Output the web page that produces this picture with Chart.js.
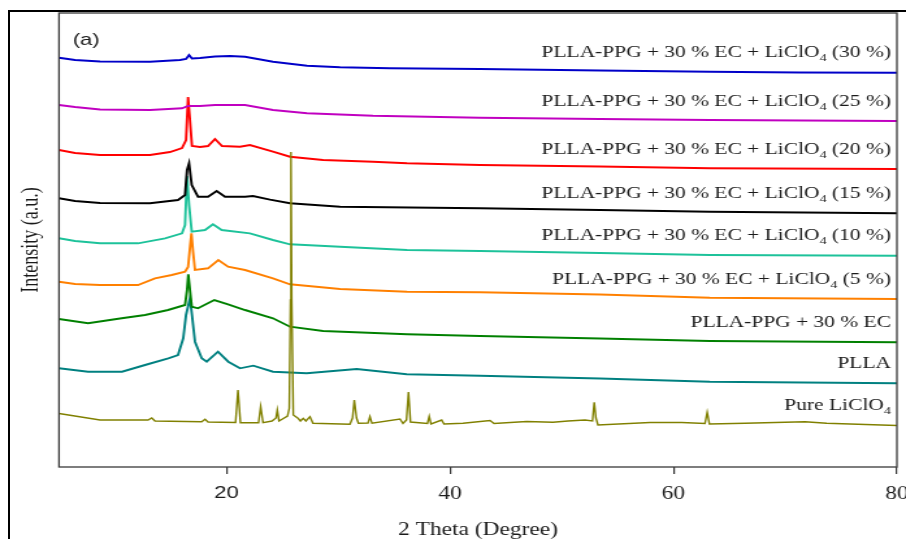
<!DOCTYPE html>
<html lang="en">
<head>
    <meta charset="UTF-8">
    <title>XRD patterns (a)</title>
    <script src="https://cdn.jsdelivr.net/npm/chart.js"></script>
    <style>
        body { margin: 0; background: #fff; }
        .frame {
            position: absolute; left: 8px; top: 10px;
            width: 1000px; height: 1000px;
            border-left: 2px solid #000; border-top: 2px solid #000;
        }
        #xrd { position: absolute; left: 0; top: 0; }
    </style>
</head>
<body>
    <div class="frame"></div>
    <!-- the original figure is stretched sideways, so the canvas is too -->
    <canvas id="xrd" width="697" height="539" style="width: 906px; height: 539px;"></canvas>
    <script>
        const tickValues = [20, 40, 60, 80];

        const seriesNames = [
            'PLLA-PPG + 30 % EC + LiClO_4 (30 %)',
            'PLLA-PPG + 30 % EC + LiClO_4 (25 %)',
            'PLLA-PPG + 30 % EC + LiClO_4 (20 %)',
            'PLLA-PPG + 30 % EC + LiClO_4 (15 %)',
            'PLLA-PPG + 30 % EC + LiClO_4 (10 %)',
            'PLLA-PPG + 30 % EC + LiClO_4 (5 %)',
            'PLLA-PPG + 30 % EC',
            'PLLA',
            'Pure LiClO_4'
        ];
        const seriesColors = ['#0000c8', '#c000c0', '#ff0000', '#000000', '#1dc29a', '#ff8000', '#008000', '#008080', '#808000'];

        // 2 theta (degree) and intensity (a.u., curves stacked with offsets)
        const theta30 = [5, 6.43, 8.67, 13.14, 15.83, 16.37, 16.64, 16.9, 17.62, 18.96, 20.3, 21.65, 24.15, 27.2, 30.15, 34.62, 42.68, 53.42, 63.26, 71.32, 80];
        const int30 = [409.3, 407, 405.5, 405.3, 407, 408, 412, 408.5, 409, 410.5, 411, 410.3, 405.3, 401.3, 399.7, 398.7, 398, 396.5, 395.3, 394.5, 394.3];

        const theta25 = [5, 6.43, 8.67, 13.14, 16.01, 16.55, 17.62, 18.96, 21.65, 24.15, 27.2, 33.1, 42.68, 53.42, 63.26, 80];
        const int25 = [362, 360, 357.5, 357, 358.7, 361, 361, 362, 362, 357, 353.7, 351.3, 349.3, 348, 347, 346];

        const theta20 = [5, 6.43, 8.67, 13.14, 14.93, 16.01, 16.37, 16.55, 16.72, 16.9, 17.62, 18.34, 18.96, 19.59, 21.2, 22.09, 24.15, 25.67, 28.63, 33.1, 36.15, 42.68, 53.42, 63.26, 80];
        const int20 = [317, 314, 312, 312, 315, 319, 327, 370, 347, 321, 320, 321, 328, 321, 320.3, 322, 315.3, 310.3, 307, 305.3, 303.7, 302, 300.5, 298.7, 298];

        const theta15 = [5, 6.43, 8.67, 13.14, 15.65, 16.28, 16.46, 16.64, 16.88, 17.44, 18.34, 19.11, 19.86, 21.65, 22.36, 23.88, 25.67, 30.15, 42.68, 53.42, 63.26, 80];
        const int15 = [268.7, 266, 264, 263.7, 267, 272, 297, 303.7, 282, 270.3, 270.3, 276, 270.3, 270.3, 271, 267.3, 263.7, 260.3, 258.7, 257, 255.3, 253.7];

        const theta10 = [5, 6.43, 8.67, 12.07, 14.49, 16.01, 16.28, 16.46, 16.64, 16.88, 18.07, 18.78, 19.56, 22.09, 24.15, 25.67, 30.15, 36.15, 42.68, 53.42, 63.26, 80];
        const int10 = [228.7, 226, 223.7, 223.7, 228.7, 233.7, 242, 291, 262, 235.3, 237, 242.7, 237, 233.7, 227, 222.7, 220.3, 217, 216, 214, 212, 211.3];

        const theta5 = [5, 6.43, 8.67, 12.07, 13.59, 15.09, 16.28, 16.55, 16.85, 17.0, 17.17, 18.34, 19.26, 20.13, 21.65, 24.15, 25.67, 30.15, 36.15, 42.68, 53.42, 63.26, 80];
        const int5 = [185.3, 183, 182, 182, 188.7, 192, 195.3, 200, 233.7, 215, 197, 198.7, 207, 200.3, 197, 188.7, 182.7, 178, 175.3, 174.7, 172.5, 169.3, 168];

        const thetaEC = [5, 7.6, 10.61, 12.7, 14.76, 16.28, 16.46, 16.57, 16.72, 16.88, 17.44, 18.9, 20.13, 21.65, 24.15, 25.67, 28.63, 36.15, 42.68, 53.42, 63.26, 80];
        const intEC = [148, 143.7, 148.7, 152, 157, 162, 177, 192.7, 177, 160.3, 158.7, 167, 162.7, 157, 148.7, 140.3, 136, 132.7, 131, 128.5, 126, 124.7];

        const thetaPLLA = [5, 7.6, 10.64, 12.7, 14.78, 15.65, 16.12, 16.37, 16.72, 16.9, 17.17, 17.77, 18.22, 19.23, 20.15, 21.2, 22.39, 24.15, 27.17, 31.64, 36.12, 42.68, 53.42, 63.26, 80];
        const intPLLA = [98.7, 95.3, 95.3, 102, 108.7, 112, 128.7, 152, 168.7, 152, 125.3, 108.7, 105.3, 115.3, 105.3, 98.7, 101.3, 95.3, 93.7, 98, 92.7, 91.3, 88.5, 85.3, 83.7];

        const thetaLi = [5, 8.67, 12.97, 13.3, 13.59, 17.77, 18.07, 18.34, 20.8, 21.02, 21.24, 22.86, 23.05, 23.26, 24.06, 24.42, 24.54, 24.69,
            25.45, 25.61, 25.72, 25.76, 25.83, 25.97, 26.39, 26.61, 26.86, 27.1, 27.46, 27.73, 31.04, 31.27, 31.43, 31.63, 31.8, 32.66, 32.83, 33.01,
            35.52, 35.79, 36.1, 36.28, 36.46, 37.98, 38.14, 38.3, 39.25, 39.46, 41.16, 43.58, 43.94, 46.86, 49.21, 50.56, 52.08, 52.75, 52.91, 53.06,
            53.24, 57.9, 60.73, 62.82, 63.02, 63.22, 66.4, 71.77, 73.71, 80];
        const intLi = [53.5, 47, 47, 49, 46, 45.3, 47.7, 45, 44.5, 77, 44.3, 44.3, 60.3, 44.3, 46, 49, 57, 46,
            51, 58.7, 167, 315, 167, 52, 48.7, 46, 48.7, 46, 50.3, 43.7, 42.7, 49, 67, 49, 43.7, 44, 50.3, 43.7,
            48, 43.5, 47, 75, 45, 43.5, 50.7, 43, 47, 43, 43.7, 46.5, 43.5, 45.5, 44.7, 46, 47, 46, 64.7, 49,
            42, 44.5, 44.5, 43.5, 54.5, 43, 43.7, 45.3, 43.7, 41.5];

        const allTheta = [theta30, theta25, theta20, theta15, theta10, theta5, thetaEC, thetaPLLA, thetaLi];
        const allInt = [int30, int25, int20, int15, int10, int5, intEC, intPLLA, intLi];

        const serif = '"Liberation Serif", "Times New Roman", serif';
        const sans = '"Liberation Sans", Arial, sans-serif';

        const datasets = seriesNames.map((name, i) => ({
            label: name,
            data: allTheta[i].map((t, k) => ({ x: t, y: allInt[i][k] })),
            borderColor: seriesColors[i],
            borderWidth: i === 8 ? 1.4 : 1.9,
            order: i === 8 ? 0 : i + 1
        }));

        // label with subscript: text after "_" starts with the subscript char
        function drawLabel(ctx, text, right, cy) {
            const segs = [];
            text.split('_').forEach((p, i) => {
                if (i === 0) { segs.push({ t: p }); return; }
                segs.push({ t: p[0], sub: true });
                if (p.length > 1) segs.push({ t: p.slice(1) });
            });
            const fontFor = s => s.sub ? '11px ' + serif : '16.5px ' + serif;
            let w = 0;
            segs.forEach(s => { ctx.font = fontFor(s); s.w = ctx.measureText(s.t).width; w += s.w; });
            let x = right - w;
            const base = cy + 5.5;
            ctx.textAlign = 'left';
            ctx.textBaseline = 'alphabetic';
            segs.forEach(s => {
                ctx.font = fontFor(s);
                ctx.fillText(s.t, x, s.sub ? base + 4 : base);
                x += s.w;
            });
        }

        const decor = {
            id: 'decor',
            afterDatasetsDraw(chart) {
                const { ctx, chartArea: a, scales: { y } } = chart;
                ctx.save();
                ctx.strokeStyle = '#3a3a3a';
                ctx.lineWidth = 1.3;
                ctx.strokeRect(a.left, a.top, a.right - a.left, a.bottom - a.top);

                ctx.fillStyle = '#1a1a1a';
                ctx.font = '17px ' + sans;
                ctx.textAlign = 'left';
                ctx.textBaseline = 'middle';
                ctx.fillText('(a)', a.left + 10.5, 40);

                chart.data.datasets.forEach(ds => {
                    const last = ds.data[ds.data.length - 1];
                    drawLabel(ctx, ds.label, a.right - 4.6, y.getPixelForValue(last.y) - 21);
                });
                ctx.restore();
            }
        };

        new Chart(document.getElementById('xrd').getContext('2d'), {
            type: 'line',
            data: { datasets },
            options: {
                responsive: false,
                animation: false,
                devicePixelRatio: 1,
                layout: { padding: { left: 0, right: 7, top: 13, bottom: 0 } },
                elements: { point: { radius: 0 }, line: { tension: 0 } },
                plugins: { legend: { display: false }, tooltip: { enabled: false } },
                scales: {
                    x: {
                        type: 'linear',
                        min: 5,
                        max: 80,
                        afterBuildTicks: s => { s.ticks = tickValues.map(v => ({ value: v })); },
                        afterFit: s => { s.height = 72; s.paddingLeft = 0; s.paddingRight = 0; },
                        grid: { drawOnChartArea: false, drawTicks: true, tickLength: 7, color: '#333', lineWidth: 1.2 },
                        border: { display: false },
                        ticks: {
                            color: '#1a1a1a',
                            padding: 9,
                            maxRotation: 0,
                            autoSkip: false,
                            font: c => (c.tick && c.tick.value === 20)
                                ? { family: sans, size: 17 }
                                : { family: serif, size: 18 }
                        },
                        title: {
                            display: true,
                            text: '2 Theta (Degree)',
                            color: '#1a1a1a',
                            font: { family: serif, size: 18, lineHeight: 1 },
                            padding: { top: 0, bottom: 0 }
                        }
                    },
                    y: {
                        min: 0,
                        max: 454,
                        afterFit: s => { s.width = 45.4; s.paddingTop = 0; s.paddingBottom = 0; },
                        grid: { display: false },
                        border: { display: false },
                        ticks: { display: false },
                        title: {
                            display: true,
                            text: 'Intensity (a.u.)',
                            color: '#1a1a1a',
                            font: { family: serif, size: 18, lineHeight: 1 },
                            padding: { top: 14.8, bottom: 0 }
                        }
                    }
                }
            },
            plugins: [decor]
        });
    </script>
</body>
</html>
